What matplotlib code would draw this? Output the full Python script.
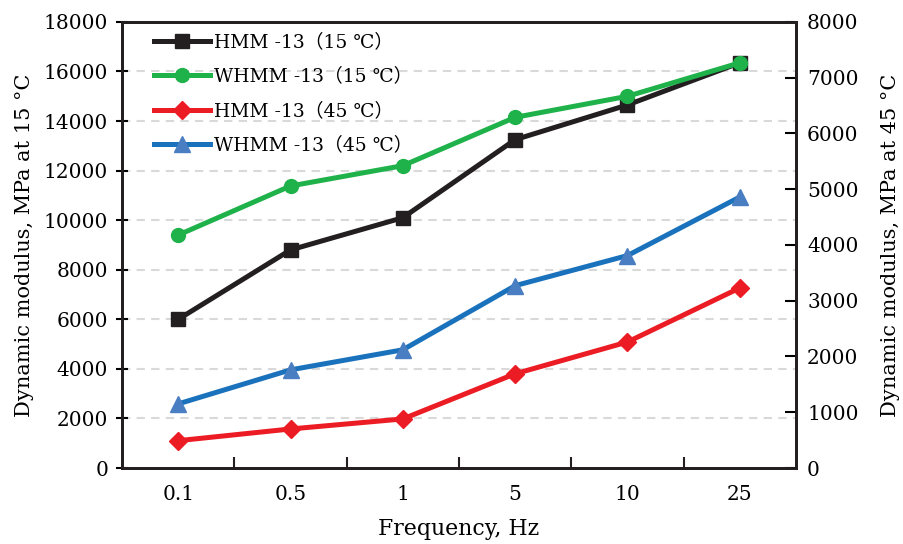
import numpy as np
import matplotlib.pyplot as plt
from matplotlib.ticker import FixedLocator, MultipleLocator

plt.rcParams['font.family'] = ['DejaVu Serif', 'Noto Sans CJK SC', 'DejaVu Sans']

# Data
frequencies = ["0.1", "0.5", "1", "5", "10", "25"]
hmm_15 = [6000, 8800, 10100, 13250, 14650, 16350]
whmm_15 = [9400, 11380, 12200, 14150, 15000, 16350]
hmm_45 = [490, 700, 880, 1690, 2260, 3230]
whmm_45 = [1150, 1760, 2120, 3270, 3810, 4860]

labels = ["HMM -13（15 ℃）", "WHMM -13（15 ℃）", "HMM -13（45 ℃）", "WHMM -13（45 ℃）"]

BLACK = "#231f20"
GREEN = "#1fb24a"
RED = "#ec1c24"
BLUE = "#1b72bc"
BLUE_FACE = "#4a7ec2"

fig = plt.figure(figsize=(9.04, 5.44), dpi=100)
ax = fig.add_axes([0.135, 0.1397, 0.7455, 0.82])
ax2 = ax.twinx()

x = np.arange(len(frequencies))
lw = 3.6

l1, = ax.plot(x, hmm_15, color=BLACK, lw=lw, marker="s", ms=10, label=labels[0])
l2, = ax.plot(x, whmm_15, color=GREEN, lw=lw, marker="o", ms=10, label=labels[1])
l3, = ax2.plot(x, hmm_45, color=RED, lw=lw, marker="D", ms=9, label=labels[2])
l4, = ax2.plot(x, whmm_45, color=BLUE, lw=lw, marker="^", ms=11,
               mfc=BLUE_FACE, mec=BLUE_FACE, label=labels[3])

ax.set_xlim(-0.5, len(frequencies) - 0.5)
ax.set_ylim(0, 18000)
ax2.set_ylim(0, 8000)
ax.yaxis.set_major_locator(MultipleLocator(2000))
ax2.yaxis.set_major_locator(MultipleLocator(1000))

# horizontal dashed grid on the primary axis
for yv in range(2000, 18000, 2000):
    ax.axhline(yv, color="#d9d9d9", lw=1.5, ls=(0, (4, 3)), zorder=0)

ax.set_xticks(x)
ax.set_xticklabels(frequencies)
ax.xaxis.set_minor_locator(FixedLocator(np.arange(0.5, len(frequencies) - 1, 1)))
ax.tick_params(axis="x", which="major", length=0, pad=12, labelsize=14.5)
ax.tick_params(axis="x", which="minor", direction="in", length=8, width=1.5, color=BLACK)
ax.tick_params(axis="y", direction="inout", length=8, width=1.5, labelsize=14.5, pad=6)
ax2.tick_params(axis="y", direction="in", length=8, width=1.5, labelsize=14.5, pad=8)

for a in (ax, ax2):
    for s in a.spines.values():
        s.set_linewidth(2)
        s.set_color(BLACK)

ax.set_xlabel("Frequency, Hz", fontsize=15.8, labelpad=10)
ax.set_ylabel("Dynamic modulus, MPa at 15 °C", fontsize=15, labelpad=7)
ax2.set_ylabel("Dynamic modulus, MPa at 45 °C", fontsize=15, labelpad=16)

ax2.legend(handles=[l1, l2, l3, l4], loc="upper left", frameon=False,
           fontsize=13.5, handlelength=3.0, labelspacing=0.88,
           bbox_to_anchor=(0.03, 1.0), borderaxespad=0.2, handletextpad=0.2)

fig.savefig("out.png", dpi=100)
